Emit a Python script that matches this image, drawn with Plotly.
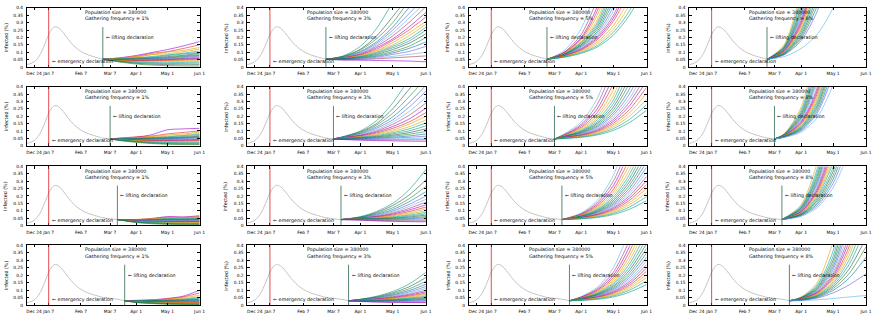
import plotly.graph_objects as go

# ---------------------------------------------------------------- data
POPULATION = 380000
FREQUENCIES = ["1%", "3%", "5%", "8%"]
EMERGENCY_DATE = "2021-01-07"
LIFT_DATES = ["2021-02-28", "2021-03-07", "2021-03-14", "2021-03-21"]

# observed infection curve (%), shown up to each row's lifting date
GRAY_DATES = ["2020-12-17", "2020-12-20", "2020-12-24", "2020-12-29", "2021-01-03",
              "2021-01-07", "2021-01-10", "2021-01-13", "2021-01-17", "2021-01-21",
              "2021-01-26", "2021-01-31", "2021-02-05", "2021-02-10", "2021-02-15",
              "2021-02-20", "2021-02-24", "2021-02-28", "2021-03-07", "2021-03-14",
              "2021-03-21"]
GRAY_VALUES = [0.016, 0.022, 0.035, 0.075, 0.15,
               0.22, 0.255, 0.272, 0.262, 0.232,
               0.185, 0.145, 0.115, 0.094, 0.079,
               0.068, 0.06, 0.052, 0.046, 0.04,
               0.03]

# sample dates of the simulated runs after lifting
NODES_EARLY = ["2021-03-16", "2021-04-01", "2021-04-16", "2021-05-01", "2021-05-16", "2021-06-01"]
NODES_LATE = ["2021-04-01", "2021-04-16", "2021-05-01", "2021-05-16", "2021-06-01"]

X_TICKS = ["2020-12-24", "2021-01-07", "2021-02-07", "2021-03-07", "2021-04-01", "2021-05-01", "2021-06-01"]
X_TICK_TEXT = ["Dec 24", "Jan 7", "Feb 7", "Mar 7", "Apr 1", "May 1", "Jun 1"]
Y_TICKS = [0, 0.05, 0.1, 0.15, 0.2, 0.25, 0.3, 0.35, 0.4]
Y_TICK_TEXT = ["0", "0.05", "0.1", "0.15", "0.2", "0.25", "0.3", "0.35", "0.4"]

# ---- gathering frequency 1%
SIM_F1_R1 = [
    [.062, .078, .098, .118, .142, .172], [.060, .072, .092, .104, .125, .150],
    [.057, .066, .084, .101, .112, .132], [.061, .071, .083, .090, .103, .121],
    [.055, .062, .071, .082, .093, .108], [.052, .060, .066, .077, .088, .098],
    [.053, .056, .061, .070, .079, .093], [.050, .054, .060, .064, .074, .084],
    [.049, .051, .056, .061, .069, .079], [.051, .053, .054, .057, .064, .073],
    [.047, .048, .051, .054, .059, .068], [.046, .046, .049, .052, .057, .063],
    [.047, .044, .045, .049, .053, .058], [.045, .042, .043, .044, .048, .053],
    [.044, .040, .039, .041, .044, .047], [.042, .036, .035, .036, .038, .041],
    [.040, .033, .030, .029, .031, .034], [.039, .029, .025, .023, .024, .026],
    [.036, .025, .019, .016, .015, .016], [.034, .020, .013, .009, .007, .006]]
SIM_F1_R2 = [
    [.050, .058, .075, .108, .114, .118], [.052, .060, .066, .080, .090, .100],
    [.049, .055, .062, .072, .080, .092], [.050, .054, .058, .064, .072, .084],
    [.047, .051, .055, .060, .068, .077], [.048, .050, .052, .056, .062, .070],
    [.046, .048, .050, .053, .057, .064], [.045, .046, .047, .050, .054, .060],
    [.046, .045, .046, .048, .051, .056], [.044, .043, .043, .045, .048, .052],
    [.045, .042, .041, .042, .044, .047], [.043, .040, .038, .039, .040, .043],
    [.042, .038, .036, .036, .037, .039], [.043, .037, .034, .033, .033, .035],
    [.041, .035, .031, .029, .029, .030], [.040, .033, .028, .026, .025, .026],
    [.039, .031, .025, .022, .021, .021], [.038, .028, .022, .018, .016, .016],
    [.037, .026, .018, .014, .012, .011], [.035, .023, .015, .010, .008, .007]]
SIM_F1_R3 = [
    [.040, .048, .060, .058, .066], [.038, .045, .056, .055, .060],
    [.041, .046, .052, .053, .057], [.037, .042, .050, .049, .054],
    [.036, .040, .047, .046, .050], [.035, .039, .044, .043, .047],
    [.036, .037, .041, .041, .044], [.034, .035, .039, .038, .041],
    [.033, .034, .036, .036, .038], [.032, .032, .034, .033, .035],
    [.031, .031, .032, .031, .032], [.030, .029, .029, .029, .030],
    [.029, .027, .027, .026, .027], [.028, .026, .025, .024, .024],
    [.027, .024, .022, .021, .021], [.026, .022, .020, .018, .018],
    [.025, .020, .017, .015, .014], [.023, .018, .014, .012, .011],
    [.022, .015, .011, .009, .008], [.020, .012, .008, .006, .005]]
SIM_F1_R4 = [
    [.032, .036, .045, .060, .100], [.031, .035, .043, .055, .082],
    [.033, .034, .040, .050, .066], [.030, .033, .038, .044, .056],
    [.029, .031, .035, .040, .050], [.030, .030, .033, .037, .045],
    [.028, .029, .031, .034, .040], [.029, .028, .029, .031, .036],
    [.027, .027, .028, .029, .032], [.028, .026, .026, .027, .029],
    [.026, .025, .024, .025, .026], [.025, .023, .022, .022, .023],
    [.026, .022, .021, .020, .021], [.024, .021, .019, .018, .018],
    [.023, .019, .017, .016, .016], [.022, .018, .015, .014, .013],
    [.021, .016, .013, .011, .011], [.020, .015, .011, .009, .008],
    [.019, .013, .009, .007, .006], [.018, .011, .007, .005, .004]]

# ---- gathering frequency 3%
SIM_F3_R1 = [
    [.075, .140, .260, .440], [.072, .120, .210, .340, .480],
    [.070, .115, .190, .300, .450], [.068, .105, .170, .270, .400, .520],
    [.066, .100, .160, .250, .360, .480], [.065, .095, .150, .230, .330, .440],
    [.063, .090, .140, .210, .300, .410], [.062, .085, .130, .190, .270, .370],
    [.061, .082, .120, .180, .250, .340], [.060, .080, .110, .165, .230, .310],
    [.058, .076, .105, .150, .210, .290], [.057, .072, .098, .140, .190, .270],
    [.056, .070, .092, .130, .175, .250], [.055, .066, .085, .118, .160, .225],
    [.054, .063, .078, .105, .140, .200], [.053, .060, .072, .095, .125, .170],
    [.052, .057, .066, .085, .105, .140], [.050, .054, .060, .072, .085, .100],
    [.049, .051, .055, .062, .068, .075], [.047, .046, .044, .042, .040, .035]]
SIM_F3_R2 = [
    [.062, .100, .170, .290, .450], [.060, .095, .150, .250, .380, .520],
    [.059, .090, .140, .220, .330, .460], [.058, .085, .128, .195, .290, .410],
    [.057, .080, .118, .175, .260, .370], [.056, .076, .108, .160, .230, .330],
    [.055, .072, .100, .145, .205, .290], [.054, .069, .093, .130, .180, .255],
    [.053, .066, .086, .118, .160, .225], [.052, .063, .080, .107, .145, .200],
    [.051, .060, .074, .097, .128, .175], [.050, .058, .069, .088, .114, .155],
    [.049, .055, .064, .080, .100, .135], [.048, .053, .060, .072, .088, .115],
    [.047, .050, .056, .065, .077, .097], [.046, .048, .052, .058, .066, .080],
    [.045, .046, .048, .052, .057, .065], [.044, .043, .044, .046, .048, .052],
    [.043, .041, .040, .040, .040, .041], [.042, .038, .035, .033, .031, .030]]
SIM_F3_R3 = [
    [.060, .095, .150, .240, .380], [.057, .088, .135, .205, .310],
    [.055, .082, .120, .180, .265], [.054, .076, .108, .160, .230],
    [.052, .071, .098, .142, .200], [.051, .067, .090, .128, .178],
    [.050, .063, .083, .115, .158], [.049, .060, .077, .104, .140],
    [.048, .057, .071, .094, .125], [.047, .054, .066, .085, .112],
    [.046, .052, .061, .077, .100], [.045, .049, .057, .070, .089],
    [.044, .047, .053, .063, .079], [.043, .045, .049, .057, .070],
    [.042, .043, .046, .051, .061], [.041, .041, .042, .046, .053],
    [.040, .039, .039, .041, .045], [.039, .037, .036, .036, .038],
    [.038, .034, .032, .031, .031], [.036, .031, .028, .026, .025]]
SIM_F3_R4 = [
    [.040, .060, .092, .140, .220], [.039, .056, .083, .122, .185],
    [.038, .053, .076, .108, .160], [.037, .050, .070, .097, .140],
    [.036, .048, .065, .088, .125], [.035, .045, .060, .080, .112],
    [.035, .043, .056, .073, .100], [.034, .041, .052, .067, .090],
    [.033, .039, .048, .061, .081], [.033, .037, .045, .056, .073],
    [.032, .035, .042, .051, .066], [.031, .034, .039, .047, .059],
    [.031, .032, .036, .043, .053], [.030, .031, .034, .039, .047],
    [.029, .029, .031, .035, .041], [.029, .028, .029, .032, .036],
    [.028, .026, .027, .028, .031], [.027, .025, .024, .025, .026],
    [.026, .023, .022, .021, .021], [.025, .021, .019, .018, .017]]

# ---- gathering frequency 5%
SIM_F5_R1 = [
    [.110, .260, .560], [.100, .220, .460], [.098, .200, .410, .800],
    [.095, .190, .380, .750], [.092, .180, .350, .680], [.090, .170, .320, .620],
    [.088, .165, .300, .580], [.087, .160, .285, .540], [.085, .152, .270, .500],
    [.084, .148, .255, .470], [.082, .142, .240, .440], [.080, .136, .228, .410, .720],
    [.079, .130, .215, .380, .660], [.077, .125, .205, .350, .600],
    [.076, .120, .195, .330, .560], [.074, .115, .185, .310, .510],
    [.072, .110, .170, .280, .460], [.070, .104, .158, .255, .420, .700],
    [.068, .098, .145, .235, .380, .620], [.066, .092, .135, .215, .350, .560]]
SIM_F5_R2 = [
    [.080, .160, .320, .620], [.075, .145, .280, .540], [.072, .135, .250, .470],
    [.070, .125, .225, .420], [.068, .118, .205, .380, .700],
    [.066, .110, .190, .340, .620], [.064, .104, .175, .310, .560],
    [.063, .099, .162, .285, .500], [.062, .094, .152, .262, .460],
    [.060, .090, .142, .242, .420], [.059, .086, .133, .224, .385, .650],
    [.058, .082, .125, .208, .350, .590], [.057, .078, .117, .192, .320, .530],
    [.056, .075, .110, .178, .295, .480], [.055, .072, .103, .165, .270, .440],
    [.054, .069, .097, .152, .245, .395], [.053, .066, .091, .140, .222, .355],
    [.052, .063, .085, .128, .200, .315], [.050, .060, .079, .116, .178, .278],
    [.049, .057, .073, .104, .157, .240]]
SIM_F5_R3 = [
    [.085, .170, .340, .640], [.080, .155, .300, .560], [.076, .143, .270, .500],
    [.073, .133, .245, .450], [.070, .124, .225, .410],
    [.068, .117, .208, .375, .660], [.066, .110, .193, .345, .600],
    [.064, .104, .180, .318, .550], [.062, .099, .168, .295, .505],
    [.060, .094, .157, .273, .465], [.059, .090, .147, .253, .430],
    [.057, .086, .138, .234, .395], [.056, .082, .130, .217, .362],
    [.055, .078, .122, .200, .332], [.053, .074, .114, .185, .303],
    [.052, .070, .106, .170, .276], [.050, .066, .098, .155, .250],
    [.049, .062, .090, .140, .222], [.047, .058, .082, .125, .195],
    [.045, .054, .074, .110, .168]]
SIM_F5_R4 = [
    [.058, .120, .250, .500], [.055, .110, .220, .430],
    [.053, .102, .200, .390, .700], [.051, .096, .183, .355, .640],
    [.049, .090, .168, .325, .580], [.048, .085, .156, .298, .530],
    [.047, .081, .146, .275, .485], [.045, .077, .136, .253, .445],
    [.044, .073, .127, .233, .410], [.043, .070, .119, .215, .378],
    [.042, .067, .111, .199, .348], [.041, .064, .104, .184, .320],
    [.040, .061, .098, .170, .295], [.039, .058, .092, .157, .271],
    [.038, .055, .086, .145, .248], [.037, .052, .080, .133, .226],
    [.036, .049, .074, .122, .205], [.035, .046, .068, .111, .184],
    [.034, .043, .062, .100, .162], [.032, .039, .055, .087, .138]]

# ---- gathering frequency 8%
SIM_F8_R1 = [
    [.150, .520], [.140, .470], [.135, .440], [.130, .410, 1.0],
    [.126, .385, .950], [.122, .365, .900], [.118, .345, .850], [.115, .330, .800],
    [.112, .315, .760], [.109, .300, .720], [.106, .285, .680], [.103, .272, .640],
    [.100, .258, .600], [.097, .245, .560], [.094, .232, .520], [.091, .218, .480],
    [.088, .205, .445], [.085, .192, .410], [.082, .178, .375, .700],
    [.070, .125, .220, .400, .700]]
SIM_F8_R2 = [
    [.080, .260, .700], [.078, .240, .620], [.076, .225, .570], [.074, .212, .530],
    [.073, .200, .495], [.071, .190, .465], [.070, .181, .440], [.069, .172, .415],
    [.068, .164, .390, .900], [.067, .157, .370, .850], [.066, .150, .350, .800],
    [.065, .143, .332, .760], [.064, .137, .315, .720], [.063, .131, .298, .680],
    [.062, .125, .282, .640], [.061, .119, .266, .600], [.060, .113, .250, .560],
    [.059, .107, .234, .520], [.058, .101, .218, .480], [.056, .092, .190, .410]]
SIM_F8_R3 = [
    [.140, .420], [.130, .380, .900], [.124, .355, .850], [.118, .332, .800],
    [.113, .312, .750], [.108, .295, .700], [.104, .280, .660], [.100, .265, .620],
    [.096, .250, .580], [.093, .237, .545], [.090, .225, .510], [.087, .213, .480],
    [.084, .202, .450], [.081, .191, .420], [.078, .180, .392, .800],
    [.075, .168, .365, .740], [.072, .156, .338, .680], [.069, .145, .312, .620],
    [.066, .133, .285, .560], [.062, .120, .255, .500]]
SIM_F8_R4 = [
    [.055, .150, .420], [.052, .135, .360, .900], [.050, .125, .325, .800],
    [.049, .117, .298, .720], [.048, .110, .275, .650], [.046, .104, .255, .590],
    [.045, .098, .237, .540], [.044, .093, .220, .495], [.043, .088, .205, .455],
    [.042, .084, .192, .420], [.041, .080, .180, .390, .800],
    [.040, .076, .168, .360, .730], [.039, .072, .156, .330, .660],
    [.038, .068, .145, .300, .590], [.037, .064, .133, .270, .520],
    [.036, .060, .122, .240, .450], [.035, .056, .110, .210, .390],
    [.034, .052, .098, .180, .320], [.033, .047, .082, .135, .210],
    [.030, .036, .045, .055, .065]]

# rows = lifting date, columns = gathering frequency
SIMULATIONS = [
    [SIM_F1_R1, SIM_F3_R1, SIM_F5_R1, SIM_F8_R1],
    [SIM_F1_R2, SIM_F3_R2, SIM_F5_R2, SIM_F8_R2],
    [SIM_F1_R3, SIM_F3_R3, SIM_F5_R3, SIM_F8_R3],
    [SIM_F1_R4, SIM_F3_R4, SIM_F5_R4, SIM_F8_R4],
]

# ---------------------------------------------------------------- style
W, H = 880, 323
COL_PX = [(27, 201), (249, 429), (472, 651), (694, 872)]
ROW_PX = [(6, 66), (86, 146), (167, 227), (247, 308)]
RUN_COLORS = ["#9400d3", "#009e73", "#56b4e9", "#e69f00", "#0072b2",
              "#e51e10", "#2f4f4f", "#b03060", "#00a0a0", "#6a5acd",
              "#d2a000", "#228b22"]
FONT = "DejaVu Sans"

fig = go.Figure()
annotations = []
shapes = []
layout = {}

for r in range(4):
    lift = LIFT_DATES[r]
    gi = GRAY_DATES.index(lift)
    start = GRAY_VALUES[gi]
    nodes = NODES_EARLY if r < 2 else NODES_LATE
    for c in range(4):
        k = r * 4 + c + 1
        xa = "x" if k == 1 else f"x{k}"
        ya = "y" if k == 1 else f"y{k}"
        xl = "xaxis" if k == 1 else f"xaxis{k}"
        yl = "yaxis" if k == 1 else f"yaxis{k}"
        x0, x1 = COL_PX[c]
        y0, y1 = ROW_PX[r]
        axis_common = dict(
            showline=True, linecolor="#000", linewidth=0.6, mirror="allticks",
            ticks="inside", ticklen=2.5, tickwidth=0.6, tickcolor="#000",
            showgrid=False, zeroline=False, tickangle=0,
            tickfont=dict(size=4.4, color="#000", family=FONT),
        )
        layout[xl] = dict(axis_common, domain=[x0 / W, x1 / W], anchor=ya,
                          type="date", range=["2020-12-17", "2021-06-01"],
                          tickvals=X_TICKS, ticktext=X_TICK_TEXT, ticklabelstandoff=2)
        layout[yl] = dict(axis_common, domain=[1 - y1 / H, 1 - y0 / H], anchor=xa,
                          range=[0, 0.4], tickvals=Y_TICKS, ticktext=Y_TICK_TEXT,
                          ticklabelstandoff=2)

        # simulated runs after lifting
        for i, run in enumerate(SIMULATIONS[r][c]):
            fig.add_trace(go.Scatter(
                x=[lift] + nodes[:len(run)], y=[start] + run,
                xaxis=xa, yaxis=ya, mode="lines",
                line=dict(color=RUN_COLORS[(i * 5 + c) % len(RUN_COLORS)], width=0.6,
                          shape="spline", smoothing=0.8),
                showlegend=False, hoverinfo="skip"))

        # observed curve up to lifting
        fig.add_trace(go.Scatter(
            x=GRAY_DATES[:gi + 1], y=GRAY_VALUES[:gi + 1], xaxis=xa, yaxis=ya,
            mode="lines", line=dict(color="#c4c4c4", width=1, shape="spline"),
            showlegend=False, hoverinfo="skip"))

        # declaration markers
        shapes.append(dict(type="line", xref=xa, yref=ya, x0=EMERGENCY_DATE, x1=EMERGENCY_DATE,
                           y0=0, y1=0.4, line=dict(color="#e02020", width=0.8)))
        shapes.append(dict(type="line", xref=xa, yref=ya, x0=lift, x1=lift,
                           y0=0, y1=0.27, line=dict(color="#2e6b4e", width=0.8)))

        txt = dict(size=4.8, color="#000", family=FONT)
        annotations += [
            dict(xref=xa, yref=ya, x="2021-02-09", y=0.368, xanchor="left", yanchor="middle",
                 text=f"Population size = {POPULATION}", showarrow=False, font=txt),
            dict(xref=xa, yref=ya, x="2021-02-09", y=0.325, xanchor="left", yanchor="middle",
                 text=f"Gathering frequency = {FREQUENCIES[c]}", showarrow=False, font=txt),
            dict(xref=xa, yref=ya, x=EMERGENCY_DATE, y=0.035, xanchor="left", yanchor="middle",
                 xshift=1, text="← emergency declaration", showarrow=False, font=txt),
            dict(xref=xa, yref=ya, x=lift, y=0.2, xanchor="left", yanchor="middle",
                 xshift=1, text="← lifting declaration", showarrow=False, font=txt),
            dict(xref="paper", yref="paper", x=(x0 - 21) / W, y=1 - (y0 + y1) / 2 / H,
                 xanchor="center", yanchor="middle", textangle=-90,
                 text="Infected (%)", showarrow=False, font=txt),
        ]

fig.update_layout(
    width=W, height=H, margin=dict(l=0, r=0, t=0, b=0),
    paper_bgcolor="#fff", plot_bgcolor="#fff",
    annotations=annotations, shapes=shapes, showlegend=False,
    font=dict(family=FONT, size=5), **layout)

fig.write_html("out.html")
